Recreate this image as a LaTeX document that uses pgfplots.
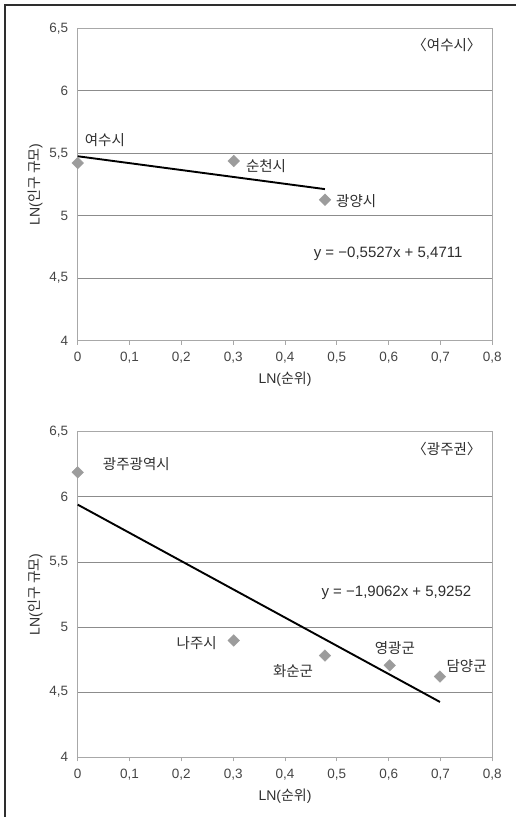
\documentclass[border=0pt]{standalone}
\usepackage{pgfplots}
\pgfplotsset{compat=1.18}
\usepackage{fontspec}
\setmainfont{Liberation Sans}
\newfontfamily\kr{Noto Sans CJK KR}
\definecolor{txt}{HTML}{2E2E2E}
\definecolor{tick}{HTML}{444444}
\definecolor{boxc}{HTML}{A8A8A8}
\definecolor{gridc}{HTML}{8C8C8C}
\definecolor{markc}{HTML}{9C9C9C}
\tikzset{
  lbl/.style={font=\kr\fontsize{14.5}{16}\selectfont, text=txt},
  eq/.style={font=\fontsize{15}{17}\selectfont, text=txt},
}
\pgfplotsset{
  myaxis/.style={
    scale only axis,
    width=414.6pt,
    xmin=0, xmax=0.8, ymin=4, ymax=6.5,
    xtick={0,0.1,0.2,0.3,0.4,0.5,0.6,0.7,0.8},
    ytick={4,4.5,5,5.5,6,6.5},
    axis line style={boxc, line width=0.8pt},
    ymajorgrids,
    grid style={gridc, line width=0.8pt},
    tick align=outside,
    xtick pos=bottom,
    ytick style={draw=none},
    xtick style={boxc, line width=0.8pt},
    major tick length=4pt,
    x tick label style={font=\fontsize{13.5}{15}\selectfont, text=tick, yshift=-4pt},
    y tick label style={font=\fontsize{13.5}{15}\selectfont, text=tick, xshift=-2pt},
    /pgf/number format/assume math mode=true,
    /pgf/number format/use comma,
    xticklabel style={/pgf/number format/fixed},
    yticklabel style={/pgf/number format/fixed},
    xlabel={LN({\kr 순위})},
    ylabel={LN({\kr 인구 규모})},
    label style={font=\fontsize{14}{16}\selectfont, text=txt},
    xlabel style={yshift=-2pt},
    ylabel style={yshift=0pt},
    clip=false,
  },
  pts/.style={only marks, mark=square*, mark size=4.1pt,
    mark options={rotate=45, fill=markc, draw=markc}},
  fit/.style={black, line width=1.9pt, no marks},
}
\begin{document}
\begin{tikzpicture}[x=1pt,y=1pt]
\useasboundingbox (0,0) rectangle (516,817);
\draw[color=txt, line width=1.1pt] (5,0) -- (5,812) -- (516,812);

% ---- Panel 1
\begin{axis}[myaxis, at={(77.7pt,476.3pt)}, anchor=south west, height=312.4pt]
\addplot[pts] coordinates {(0,5.422) (0.30103,5.438) (0.47712,5.128)};
\addplot[fit] coordinates {(0,5.476) (0.477,5.213)};
\node[lbl, anchor=west] at (axis cs:0.007,5.606) {여수시};
\node[lbl, anchor=west] at (axis cs:0.318,5.40) {순천시};
\node[lbl, anchor=west] at (axis cs:0.492,5.12) {광양시};
\node[lbl] at (axis cs:0.7125,6.366) {〈여수시〉};
\node[eq] at (axis cs:0.599,4.694) {y = −0,5527x + 5,4711};
\end{axis}

% ---- Panel 2
\begin{axis}[myaxis, at={(77.7pt,59.7pt)}, anchor=south west, height=325.6pt]
\addplot[pts] coordinates {(0,6.188) (0.30103,4.897) (0.47712,4.781) (0.60206,4.706) (0.69897,4.62)};
\addplot[fit] coordinates {(0,5.94) (0.699,4.425)};
\node[lbl, anchor=west] at (axis cs:0.042,6.25) {광주광역시};
\node[lbl, anchor=east] at (axis cs:0.275,4.88) {나주시};
\node[lbl, anchor=east] at (axis cs:0.461,4.66) {화순군};
\node[lbl] at (axis cs:0.612,4.836) {영광군};
\node[lbl, anchor=west] at (axis cs:0.705,4.70) {담양군};
\node[lbl] at (axis cs:0.7125,6.37) {〈광주권〉};
\node[eq] at (axis cs:0.615,5.264) {y = −1,9062x + 5,9252};
\end{axis}
\end{tikzpicture}
\end{document}
